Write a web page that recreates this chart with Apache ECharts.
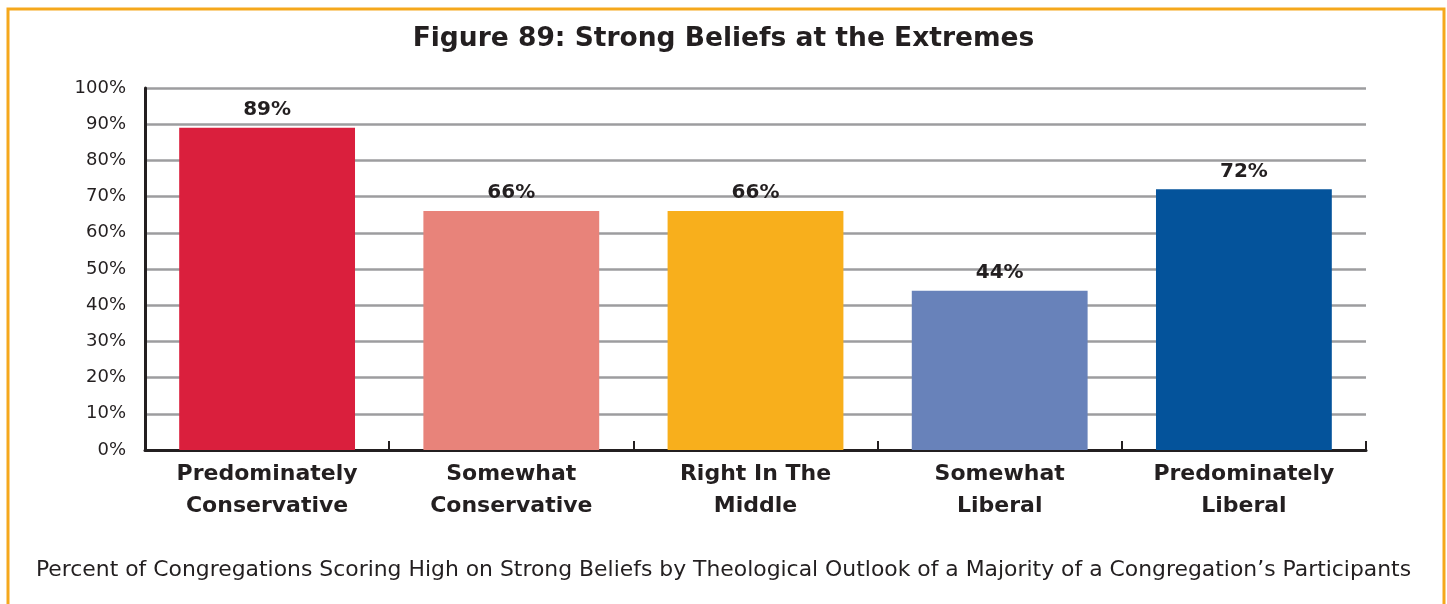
<!DOCTYPE html>
<html>
<head>
<meta charset="utf-8">
<style>
  html, body { margin: 0; padding: 0; background: #fff; }
  #chart { width: 1447px; height: 604px; }
</style>
<script src="https://cdn.jsdelivr.net/npm/echarts@6/dist/echarts.min.js"></script>
</head>
<body>
<div id="chart"></div>
<script>
// Theological outlook groups and share of congregations scoring high on strong beliefs
const categories = [
  'Predominately\nConservative',
  'Somewhat\nConservative',
  'Right In The\nMiddle',
  'Somewhat\nLiberal',
  'Predominately\nLiberal'
];
const values = [89, 66, 66, 44, 72];
const barColors = ['#DA1F3D', '#E8837A', '#F8AF1C', '#6882BA', '#04539B'];
const yTicks = [0, 10, 20, 30, 40, 50, 60, 70, 80, 90, 100];

const FONT = '"DejaVu Sans", Verdana, sans-serif';
const INK = '#231F20';

const chart = echarts.init(document.getElementById('chart'), null, { renderer: 'canvas' });

chart.setOption({
  animation: false,
  backgroundColor: '#ffffff',
  title: [
    {
      text: 'Figure 89: Strong Beliefs at the Extremes',
      left: 'center',
      top: 21,
      textStyle: { fontFamily: FONT, fontWeight: 'bold', fontSize: 26.5, color: INK }
    },
    {
      text: 'Percent of Congregations Scoring High on Strong Beliefs by Theological Outlook of a Majority of a Congregation\u2019s Participants',
      left: 'center',
      top: 554,
      textStyle: { fontFamily: FONT, fontWeight: 'normal', fontSize: 21.9, color: INK }
    }
  ],
  graphic: [
    {
      type: 'rect',
      shape: { x: 8, y: 9, width: 1436, height: 640 },
      style: { fill: 'none', stroke: '#F5A81C', lineWidth: 3 },
      silent: true
    }
  ],
  grid: { left: 145, right: 81, top: 88, bottom: 154, containLabel: false },
  xAxis: {
    type: 'category',
    data: categories,
    boundaryGap: true,
    axisLine: { show: true, lineStyle: { color: INK, width: 3 } },
    axisTick: { show: true, inside: true, length: 9, lineStyle: { color: INK, width: 2 } },
    axisLabel: {
      interval: 0,
      margin: 8,
      fontFamily: FONT,
      fontWeight: 'bold',
      fontSize: 22,
      lineHeight: 32,
      color: INK
    },
    splitLine: { show: false }
  },
  yAxis: {
    type: 'value',
    min: yTicks[0],
    max: yTicks[yTicks.length - 1],
    interval: 10,
    axisLine: { show: true, lineStyle: { color: INK, width: 3 } },
    axisTick: { show: false },
    axisLabel: {
      margin: 19,
      fontFamily: FONT,
      fontSize: 18,
      color: INK,
      formatter: v => v + '%'
    },
    splitLine: { show: true, lineStyle: { color: '#9D9D9F', width: 2.5 } }
  },
  series: [
    {
      type: 'bar',
      data: values.map((v, i) => ({ value: v, itemStyle: { color: barColors[i] } })),
      barWidth: '72%',
      label: {
        show: true,
        position: 'top',
        distance: 8,
        fontFamily: FONT,
        fontWeight: 'bold',
        fontSize: 20,
        color: INK,
        formatter: p => p.value + '%'
      }
    }
  ]
});
</script>
</body>
</html>
